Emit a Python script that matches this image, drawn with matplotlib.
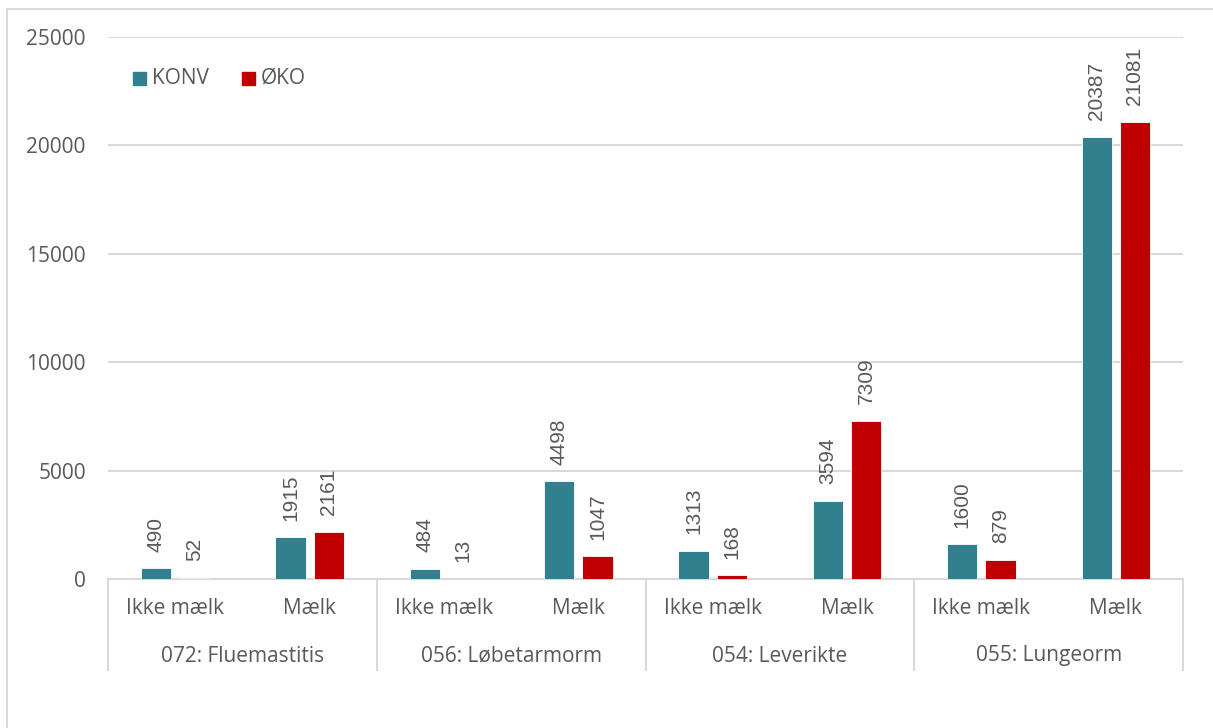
import matplotlib
matplotlib.use("Agg")
import matplotlib.pyplot as plt
from matplotlib.lines import Line2D
from matplotlib.patches import Rectangle
import numpy as np

groups = ["072: Fluemastitis", "056: Løbetarmorm", "054: Leverikte", "055: Lungeorm"]
subcats = ["Ikke mælk", "Mælk"]
konv = [490, 1915, 484, 4498, 1313, 3594, 1600, 20387]
oko = [52, 2161, 13, 1047, 168, 7309, 879, 21081]
series_names = ["KONV", "ØKO"]
yticks = [0, 5000, 10000, 15000, 20000, 25000]

teal = "#31808E"
red = "#C00000"
txt = "#595959"
grid = "#D9D9D9"

W, H = 1213, 728
fig = plt.figure(figsize=(W / 100, H / 100), dpi=100)
fig.patch.set_facecolor("white")

x0, x1, y0, y1 = 108, 1183, 579, 37
ax = fig.add_axes([x0 / W, 1 - y0 / H, (x1 - x0) / W, (y0 - y1) / H])

x = np.arange(len(konv))
bw = 0.225
off = 0.142
ax.bar(x - off, konv, bw, color=teal, edgecolor="white", linewidth=0.6, zorder=3)
ax.bar(x + off, oko, bw, color=red, edgecolor="white", linewidth=0.6, zorder=3)

lab_font = dict(family=["Liberation Sans", "DejaVu Sans"], fontsize=15, color=txt)
for xs, vals in ((x - off, konv), (x + off, oko)):
    for xi, v in zip(xs, vals):
        ax.annotate(str(v), (xi, v), xytext=(0, 12), textcoords="offset points",
                    rotation=90, ha="center", va="bottom", **lab_font)

ax.set_xlim(-0.5, len(konv) - 0.5)
ax.set_ylim(0, 25000)
ax.set_yticks(yticks)
ax.set_yticklabels([str(t) for t in yticks], fontsize=15, color=txt,
                   family=["Open Sans", "DejaVu Sans"])
ax.tick_params(axis="y", length=0, pad=16)
ax.tick_params(axis="x", length=0, labelbottom=False)
ax.yaxis.grid(True, color=grid, linewidth=1.5, zorder=0)
ax.set_axisbelow(True)
for s in ["top", "right", "left"]:
    ax.spines[s].set_visible(False)
ax.spines["bottom"].set_color(grid)
ax.spines["bottom"].set_linewidth(1.5)

# Two-level category axis
tr = ax.get_xaxis_transform()
sep_bottom = -(670 - y0) / (y0 - y1)
sub_y = -(608 - y0) / (y0 - y1)
grp_y = -(656 - y0) / (y0 - y1)
for k in range(len(groups) + 1):
    xs = -0.5 + 2 * k
    ax.add_line(Line2D([xs, xs], [0, sep_bottom], transform=tr, color=grid,
                       linewidth=1.5, clip_on=False))
cat_font = dict(fontsize=15, color=txt, family=["Open Sans", "DejaVu Sans"])
for i in range(len(konv)):
    ax.text(i, sub_y, subcats[i % 2], transform=tr, ha="center", va="center", **cat_font)
for g, name in enumerate(groups):
    ax.text(2 * g + 0.5, grp_y, name, transform=tr, ha="center", va="center", **cat_font)

# Legend
for px, col, name in ((133, teal, series_names[0]), (242, red, series_names[1])):
    fig.add_artist(Rectangle((px / W, 1 - 85 / H), 13 / W, 13 / H,
                             transform=fig.transFigure, color=col))
    fig.text((px + 19) / W, 1 - 78.5 / H, name, ha="left", va="center", **cat_font)

# Chart frame
fig.add_artist(Line2D([7 / W, 7 / W], [0, 1 - 9 / H], transform=fig.transFigure,
                      color=grid, linewidth=1.5))
fig.add_artist(Line2D([7 / W, 1], [1 - 9 / H, 1 - 9 / H], transform=fig.transFigure,
                      color=grid, linewidth=1.5))

fig.savefig("out.png", dpi=100, facecolor="white")
